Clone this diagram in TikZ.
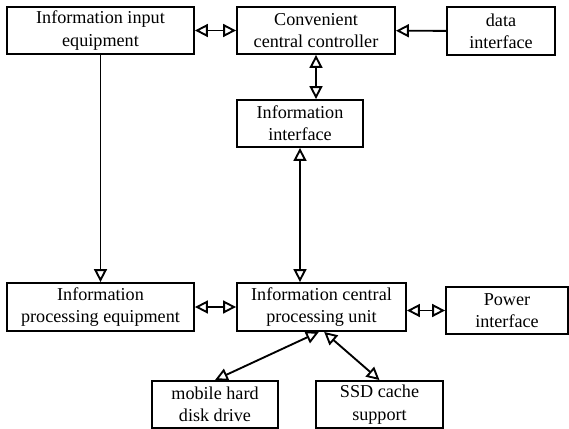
\documentclass[tikz,border=0pt]{standalone}
\usepackage{fontspec}
\setmainfont{Liberation Serif}
\usetikzlibrary{arrows.meta}

\begin{document}
\begin{tikzpicture}[x=0.03cm, y=-0.03cm,
    box/.style={draw, line width=1.6pt, inner sep=1pt, align=center,
                font=\fontsize{15.5}{19}\selectfont},
    link/.style={line width=1.6pt, -{Triangle[open, length=11pt, width=11pt]}},
    both/.style={line width=1.6pt, {Triangle[open, length=11pt, width=11pt]}-{Triangle[open, length=11pt, width=11pt]}}]
\useasboundingbox (0,0) rectangle (569,429);

    % Top row
    \node[box, minimum width=5.61cm, minimum height=1.41cm] (input) at (100.5,30.5) {Information input\\equipment};
    \node[box, minimum width=4.74cm, minimum height=1.41cm] (ctrl) at (316,30.5) {Convenient\\central controller};
    \node[box, minimum width=3.24cm, minimum height=1.44cm] (data) at (501,31) {data\\interface};

    % Interface in the middle
    \node[box, minimum width=3.78cm, minimum height=1.41cm] (iface) at (300,123.5) {Information\\interface};

    % Processing row
    \node[box, minimum width=5.61cm, minimum height=1.44cm] (proc) at (100.5,307) {Information\\processing equipment};
    \node[box, minimum width=5.07cm, minimum height=1.44cm] (cpu) at (321.5,307) {Information central\\processing unit};
    \node[box, minimum width=3.66cm, minimum height=1.41cm] (power) at (507,310.5) {Power\\interface};

    % Storage at the bottom
    \node[box, minimum width=3.78cm, minimum height=1.41cm] (disk) at (215,404.5) {mobile hard\\disk drive};
    \node[box, minimum width=3.81cm, minimum height=1.41cm] (ssd) at (379.5,404.5) {SSD cache\\support};

    % Connections
    \draw[both] (input) -- (ctrl);
    \draw[link] (data) -- (ctrl);
    \draw[both] (ctrl.south) -- (ctrl.south |- iface.north);
    \draw[link] (input) -- (proc);
    \draw[both] (iface.south) -- (iface.south |- cpu.north);
    \draw[both] (proc) -- (cpu);
    \draw[both] (cpu.east |- power.west) -- (power.west);
    \draw[both] ([xshift=-0.08cm]cpu.south) -- (disk.north);
    \draw[both] ([xshift=0.08cm]cpu.south) -- (ssd.north);

\end{tikzpicture}
\end{document}
